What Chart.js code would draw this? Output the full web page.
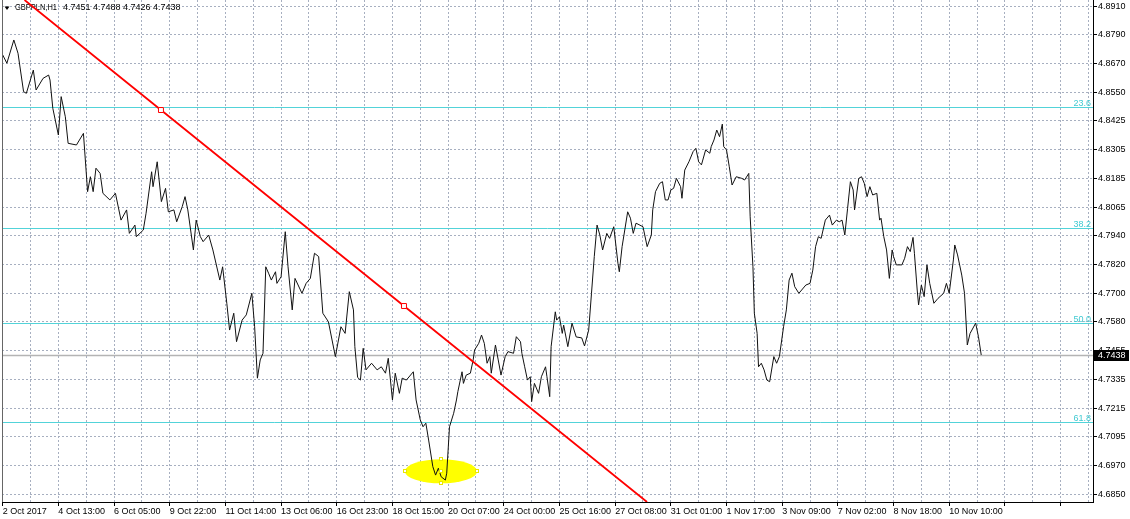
<!DOCTYPE html>
<html>
<head>
<meta charset="utf-8">
<script src="https://cdn.jsdelivr.net/npm/chart.js@4/dist/chart.umd.min.js"></script>
<style>
html,body{margin:0;padding:0;background:#fff;}
canvas{display:block;}
</style>
</head>
<body>
<canvas id="c" width="1130" height="519"></canvas>
<script>
// ---- data ----
const symbolTitle = 'GBPPLN,H1';
const ohlcText = '4.7451 4.7488 4.7426 4.7438';
const lastPrice = 4.7438;

const xTickLabels = ['2 Oct 2017','4 Oct 13:00','6 Oct 05:00','9 Oct 22:00','11 Oct 14:00','13 Oct 06:00',
  '16 Oct 23:00','18 Oct 15:00','20 Oct 07:00','24 Oct 00:00','25 Oct 16:00','27 Oct 08:00',
  '31 Oct 01:00','1 Nov 17:00','3 Nov 09:00','7 Nov 02:00','8 Nov 18:00','10 Nov 10:00'];
const barsPerLabel = 40;
const barsPerGrid = 20;
const xMinBar = -0.5, xMaxBar = 783.3;

const yTickLabels = ['4.6850','4.6970','4.7095','4.7215','4.7335','4.7455','4.7580','4.7700','4.7820',
  '4.7940','4.8065','4.8185','4.8305','4.8425','4.8550','4.8670','4.8790','4.8910'];
const yTickLow = 4.6850, yTickHigh = 4.8910;
const yMin = 4.68175, yMax = 4.89357;

// hourly close, bar index (hours from 2 Oct 00:00 on the chart) and price
const closeBars = [
  0,3,8,11,15,17,22,24,29,33,
  34,36,40,42,45,47,53,58,61,63,
  65,67,70,72,77,81,85,89,91,95,
  96,101,103,107,108,111,114,117,119,123,
  125,129,131,133,137,139,142,144,148,151,
  156,158,161,163,166,168,172,175,179,181,
  183,185,187,189,191,193,196,197,200,203,
  205,208,210,215,218,221,224,227,230,234,
  239,243,246,249,252,253,255,257,259,261,
  265,269,272,275,277,280,282,285,287,290,
  295,297,300,302,304,306,309,311,313,315,
  318,319,321,324,326,327,330,331,333,336,
  338,339,342,344,346,348,350,351,354,356,
  358,361,363,367,369,372,373,375,377,379,
  380,382,385,387,390,391,393,394,397,398,
  400,402,403,406,409,412,416,418,421,423,
  425,427,429,431,434,436,439,442,443,445,
  449,451,453,455,460,463,466,467,469,472,
  474,476,478,480,482,484,487,488,490,493,
  496,498,500,502,505,508,509,511,513,515,
  517,518,520,522,524,527,531,533,536,537,
  539,540,542,543,545,547,549,551,554,556,
  558,561,563,565,567,569,572,577,580,582,
  584,586,588,591,594,596,599,601,603,605,
  607,609,611,612,615,617,619,621,623,625,
  628,630,631,633,635,637,639,640,642,646,
  648,650,652,654,655,657,658,660,662,664,
  666,669,672,676,678,680,683,684,686,689,
  691,693,695,699,701,703];
const closePrices = [
  4.8704,4.8669,4.8767,4.8711,4.8549,4.8542,4.8640,4.8556,4.8605,4.8619,
  4.8598,4.8479,4.8366,4.8528,4.8443,4.8331,4.8324,4.8373,4.8127,4.8190,
  4.8127,4.8226,4.8204,4.8120,4.8092,4.8120,4.8007,4.8050,4.7951,4.7986,
  4.7937,4.7965,4.8036,4.8211,4.8148,4.8253,4.8085,4.8141,4.8042,4.8050,
  4.8000,4.8064,4.8106,4.8050,4.7881,4.8007,4.7937,4.7916,4.7944,4.7881,
  4.7754,4.7810,4.7656,4.7543,4.7614,4.7494,4.7585,4.7607,4.7698,4.7557,
  4.7340,4.7417,4.7445,4.7810,4.7783,4.7754,4.7789,4.7740,4.7768,4.7958,
  4.7810,4.7628,4.7761,4.7698,4.7740,4.7761,4.7867,4.7853,4.7614,4.7578,
  4.7431,4.7557,4.7529,4.7705,4.7628,4.7473,4.7343,4.7332,4.7466,4.7375,
  4.7403,4.7375,4.7388,4.7361,4.7424,4.7248,4.7361,4.7276,4.7340,4.7332,
  4.7367,4.7248,4.7164,4.7135,4.7150,4.7079,4.6967,4.6931,4.6960,4.6924,
  4.6910,4.6939,4.7135,4.7192,4.7248,4.7283,4.7367,4.7318,4.7353,4.7361,
  4.7417,4.7459,4.7487,4.7522,4.7487,4.7403,4.7431,4.7361,4.7480,4.7417,
  4.7353,4.7431,4.7452,4.7445,4.7515,4.7494,4.7445,4.7388,4.7332,4.7346,
  4.7241,4.7318,4.7276,4.7346,4.7388,4.7346,4.7262,4.7473,4.7620,4.7585,
  4.7599,4.7529,4.7564,4.7473,4.7572,4.7514,4.7510,4.7476,4.7543,4.7698,
  4.7853,4.7986,4.7944,4.7881,4.7951,4.7930,4.7979,4.7825,4.7789,4.7895,
  4.8042,4.8015,4.7951,4.7994,4.7979,4.7895,4.7944,4.8050,4.8127,4.8162,
  4.8169,4.8092,4.8092,4.8134,4.8141,4.8183,4.8148,4.8099,4.8218,4.8253,
  4.8296,4.8310,4.8253,4.8240,4.8303,4.8289,4.8317,4.8345,4.8387,4.8359,
  4.8412,4.8317,4.8303,4.8232,4.8155,4.8190,4.8183,4.8176,4.8204,4.8021,
  4.7810,4.7614,4.7529,4.7388,4.7403,4.7375,4.7332,4.7325,4.7431,4.7403,
  4.7431,4.7557,4.7628,4.7754,4.7783,4.7726,4.7698,4.7733,4.7740,4.7796,
  4.7895,4.7937,4.7930,4.8007,4.8028,4.7986,4.8007,4.8000,4.8007,4.7944,
  4.8057,4.8169,4.8134,4.8050,4.8183,4.8190,4.8162,4.8106,4.8148,4.8113,
  4.8120,4.8007,4.8015,4.7937,4.7881,4.7761,4.7881,4.7853,4.7818,4.7818,
  4.7846,4.7895,4.7874,4.7934,4.7867,4.7712,4.7649,4.7733,4.7684,4.7818,
  4.7740,4.7656,4.7677,4.7698,4.7740,4.7698,4.7839,4.7902,4.7860,4.7775,
  4.7698,4.7480,4.7529,4.7572,4.7515,4.7438];

// trend line: chart-edge ends and its two anchor points
const trendBars   = [15.7, 113.7, 288.3, 462.9];
const trendPrices = [4.89357, 4.84715, 4.76445, 4.68175];
const trendAnchor = [false, true, true, false];

// Fibonacci levels
const fibLabels = ['23.6','38.2','50.0','61.8'];
const fibPrices = [4.84842, 4.79749, 4.75715, 4.71563];

// highlighted ellipse (centre bar/price, half width in bars, half height in price)
const ellipseCenterBar = 314.9, ellipseCenterPrice = 4.6947;
const ellipseHalfBars = 25.9, ellipseHalfPrice = 0.00506;

// ---- styling ----
const FONT = '"Liberation Sans", Arial, sans-serif';
const GRID = '#a7afc0';
const FIB = '#52d3d9';
Chart.defaults.font.family = FONT;
Chart.defaults.font.size = 9;
Chart.defaults.color = '#000';

const closeData = closeBars.map((b, i) => ({x: b, y: closePrices[i]}));
const trendData = trendBars.map((b, i) => ({x: b, y: trendPrices[i]}));

const overlay = {
  id: 'overlay',
  beforeDatasetsDraw(chart) {
    const {ctx, chartArea: ca, scales: {x, y}} = chart;
    ctx.save();
    // ellipse
    const cx = x.getPixelForValue(ellipseCenterBar);
    const cy = y.getPixelForValue(ellipseCenterPrice);
    const rx = x.getPixelForValue(ellipseCenterBar + ellipseHalfBars) - cx;
    const ry = cy - y.getPixelForValue(ellipseCenterPrice + ellipseHalfPrice);
    ctx.fillStyle = '#ffff00';
    ctx.beginPath();
    ctx.ellipse(cx, cy, rx, ry, 0, 0, Math.PI * 2);
    ctx.fill();
    // fib lines
    ctx.lineWidth = 1;
    ctx.strokeStyle = FIB;
    fibPrices.forEach(p => {
      const py = Math.round(y.getPixelForValue(p)) + 0.5;
      ctx.beginPath(); ctx.moveTo(ca.left, py); ctx.lineTo(ca.right, py); ctx.stroke();
    });
    // last price line
    ctx.strokeStyle = '#b4b4b4';
    ctx.lineWidth = 1.5;
    const lp = Math.round(y.getPixelForValue(lastPrice)) + 0.5;
    ctx.beginPath(); ctx.moveTo(ca.left, lp); ctx.lineTo(ca.right, lp); ctx.stroke();
    // fib labels
    ctx.font = '9px ' + FONT;
    ctx.fillStyle = '#3fcad2';
    ctx.textAlign = 'right';
    ctx.textBaseline = 'alphabetic';
    fibPrices.forEach((p, i) => {
      const py = Math.round(y.getPixelForValue(p));
      ctx.fillText(fibLabels[i], ca.right - 2, py - 1);
    });
    // title
    ctx.fillStyle = '#000';
    ctx.beginPath();
    ctx.moveTo(4.5, 6.5); ctx.lineTo(9.5, 6.5); ctx.lineTo(7, 10); ctx.closePath(); ctx.fill();
    ctx.textAlign = 'left';
    ctx.textBaseline = 'middle';
    ctx.fillText(symbolTitle, 15, 8, 42);
    ctx.fillText(ohlcText, 63, 8);
    ctx.restore();
  },
  afterDatasetsDraw(chart) {
    const {ctx, scales: {x, y}} = chart;
    ctx.save();
    const cx = x.getPixelForValue(ellipseCenterBar);
    const cy = y.getPixelForValue(ellipseCenterPrice);
    const rx = x.getPixelForValue(ellipseCenterBar + ellipseHalfBars) - cx;
    const ry = cy - y.getPixelForValue(ellipseCenterPrice + ellipseHalfPrice);
    ctx.fillStyle = '#fff';
    ctx.strokeStyle = '#e8e800';
    ctx.lineWidth = 1;
    [[cx - rx, cy], [cx + rx, cy], [cx, cy - ry], [cx, cy + ry], [cx, cy]].forEach(([hx, hy]) => {
      const px = Math.round(hx) - 1.5, py = Math.round(hy) - 1.5;
      ctx.fillRect(px, py, 3, 3);
      ctx.strokeRect(px, py, 3, 3);
    });
    ctx.restore();
  },
  afterDraw(chart) {
    const {ctx, chartArea: ca, scales: {y}} = chart;
    ctx.save();
    // left frame
    ctx.strokeStyle = '#666';
    ctx.lineWidth = 1;
    ctx.beginPath(); ctx.moveTo(ca.left + 0.5, ca.top); ctx.lineTo(ca.left + 0.5, ca.bottom); ctx.stroke();
    // last price box
    const py = y.getPixelForValue(lastPrice);
    ctx.fillStyle = '#000';
    ctx.fillRect(ca.right + 1, Math.round(py) - 5, 35, 11);
    ctx.fillStyle = '#fff';
    ctx.font = '9px ' + FONT;
    ctx.textAlign = 'left';
    ctx.textBaseline = 'middle';
    ctx.fillText(lastPrice.toFixed(4), ca.right + 5, Math.round(py) + 0.5);
    ctx.restore();
  }
};

new Chart(document.getElementById('c'), {
  type: 'line',
  data: {
    datasets: [
      {
        label: 'trend',
        data: trendData,
        order: 0,
        borderColor: '#ff0000',
        borderWidth: 1.8,
        pointStyle: 'rect',
        pointRadius: trendAnchor.map(a => a ? 3.5 : 0),
        pointBackgroundColor: '#ffffff',
        pointBorderColor: '#ff0000',
        pointBorderWidth: 1,
        tension: 0
      },
      {
        label: symbolTitle,
        data: closeData,
        order: 1,
        borderColor: '#111',
        borderWidth: 1,
        pointRadius: 0,
        tension: 0
      }
    ]
  },
  options: {
    responsive: false,
    animation: false,
    parsing: true,
    layout: {padding: {left: 2, top: 0, right: 0, bottom: 0}},
    plugins: {legend: {display: false}, tooltip: {enabled: false}},
    scales: {
      x: {
        type: 'linear',
        position: 'bottom',
        min: xMinBar,
        max: xMaxBar,
        afterBuildTicks: s => {
          const t = [];
          for (let b = 0; b <= xMaxBar; b += barsPerGrid) t.push({value: b});
          s.ticks = t;
        },
        ticks: {
          autoSkip: false,
          maxRotation: 0,
          align: 'start',
          padding: 0,
          color: '#000',
          font: {size: 9, family: FONT},
          callback: v => (v % barsPerLabel === 0 && xTickLabels[v / barsPerLabel]) ? xTickLabels[v / barsPerLabel] : ''
        },
        grid: {
          color: GRID,
          lineWidth: 1,
          drawTicks: true,
          tickLength: 4,
          tickBorderDash: [],
          tickColor: c => (c.tick && c.tick.value % barsPerLabel === 0) ? '#000' : 'rgba(0,0,0,0)'
        },
        border: {display: true, color: '#000', width: 1, dash: [2, 2]},
        afterFit: s => { s.height = 17; s.paddingLeft = 0; s.paddingRight = 0; }
      },
      y: {
        type: 'linear',
        position: 'right',
        min: yMin,
        max: yMax,
        afterBuildTicks: s => {
          const step = (yTickHigh - yTickLow) / (yTickLabels.length - 1);
          s.ticks = yTickLabels.map((l, i) => ({value: yTickLow + i * step}));
        },
        ticks: {
          autoSkip: false,
          padding: 1,
          color: '#000',
          font: {size: 9, family: FONT},
          callback: (v, i) => yTickLabels[i]
        },
        grid: {
          color: GRID,
          lineWidth: 1,
          drawTicks: true,
          tickLength: 4,
          tickBorderDash: [],
          tickColor: '#000'
        },
        border: {display: true, color: '#000', width: 1, dash: [2, 2]},
        afterFit: s => { s.width = 37; s.paddingTop = 0; s.paddingBottom = 0; }
      }
    }
  },
  plugins: [overlay]
});
</script>
</body>
</html>
